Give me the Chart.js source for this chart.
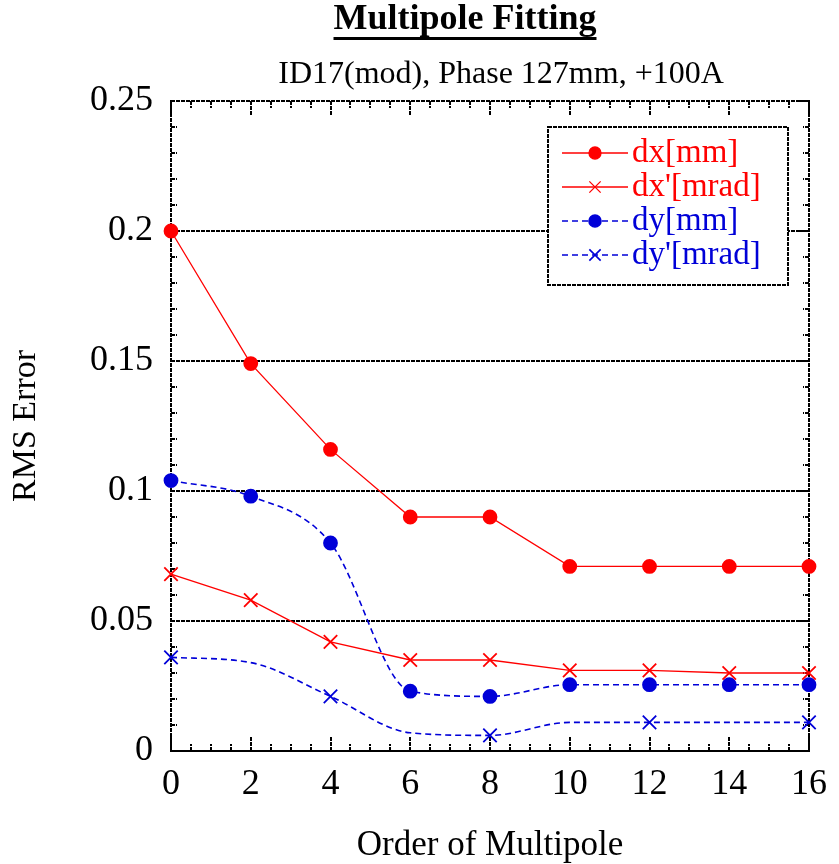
<!DOCTYPE html>
<html>
<head>
<meta charset="utf-8">
<title>Multipole Fitting</title>
<script src="https://cdn.jsdelivr.net/npm/chart.js@4.4.1/dist/chart.umd.min.js"></script>
<style>
    html, body { margin: 0; padding: 0; background: #ffffff; }
    #chart { display: block; }
</style>
</head>
<body>
<canvas id="chart" width="839" height="864"></canvas>
<script>
// Data
const orders = [0, 2, 4, 6, 8, 10, 12, 14, 16];
const dxMm = [0.200, 0.149, 0.116, 0.090, 0.090, 0.071, 0.071, 0.071, 0.071];
const dxMrad = [0.068, 0.058, 0.042, 0.035, 0.035, 0.031, 0.031, 0.030, 0.030];
const dyMm = [0.104, 0.098, 0.080, 0.023, 0.021, 0.0255, 0.0255, 0.0255, 0.0255];
const dyMrad = [0.036, 0.034, 0.021, 0.007, 0.006, 0.011, 0.011, 0.011, 0.011];
const yTicks = [0, 0.05, 0.1, 0.15, 0.2, 0.25];

const SERIF = '"Liberation Serif", "Times New Roman", serif';
const RED = '#ff0000';
const BLUE = '#0000d8';

function toPoints(values) {
    return orders.map((x, i) => ({ x, y: values[i] }));
}

// dy' only gets a marker on every other point
const dyMradRadius = orders.map((_, i) => (i % 2 === 0 ? 9.5 : 0));

// Frame, ticks and dotted grid lines
const framePlugin = {
    id: 'frame',
    beforeDatasetsDraw(chart) {
        const { ctx, chartArea: a, scales: { x, y } } = chart;
        ctx.save();
        ctx.strokeStyle = '#000';
        ctx.lineWidth = 2;
        ctx.setLineDash([4, 1]);

        // horizontal grid lines
        yTicks.forEach(v => {
            const py = Math.round(y.getPixelForValue(v));
            ctx.beginPath();
            ctx.moveTo(a.left, py);
            ctx.lineTo(a.right, py);
            ctx.stroke();
        });
        ctx.strokeRect(a.left, a.top, a.right - a.left, a.bottom - a.top);

        // x ticks, bottom and top
        for (let v = 0; v <= 16; v += 0.5) {
            const px = Math.round(x.getPixelForValue(v));
            const len = v % 2 === 0 ? 14 : 7;
            ctx.beginPath();
            ctx.moveTo(px, a.bottom);
            ctx.lineTo(px, a.bottom - len);
            ctx.moveTo(px, a.top);
            ctx.lineTo(px, a.top + len);
            ctx.stroke();
        }
        // y ticks, left and right
        for (let i = 0; i <= 25; i++) {
            const py = Math.round(y.getPixelForValue(i / 100));
            const len = i % 5 === 0 ? 12 : 6;
            ctx.beginPath();
            ctx.moveTo(a.left, py);
            ctx.lineTo(a.left + len, py);
            ctx.moveTo(a.right, py);
            ctx.lineTo(a.right - len, py);
            ctx.stroke();
        }
        ctx.restore();
    }
};

// Legend box in the upper right of the plot
const legendPlugin = {
    id: 'boxLegend',
    afterDatasetsDraw(chart) {
        const { ctx } = chart;
        const box = { x: 548, y: 127, w: 240, h: 158 };
        ctx.save();
        ctx.fillStyle = '#fff';
        ctx.fillRect(box.x, box.y, box.w, box.h);
        ctx.strokeStyle = '#000';
        ctx.lineWidth = 2;
        ctx.setLineDash([4, 1]);
        ctx.strokeRect(box.x, box.y, box.w, box.h);

        const rows = [153, 187, 221, 255];
        chart.data.datasets.forEach((ds, i) => {
            const ry = rows[i];
            ctx.strokeStyle = ds.borderColor;
            ctx.fillStyle = ds.borderColor;
            ctx.lineWidth = ds.borderWidth;
            ctx.setLineDash(ds.borderDash || []);
            ctx.beginPath();
            ctx.moveTo(562, ry);
            ctx.lineTo(628, ry);
            ctx.stroke();
            ctx.setLineDash([]);
            Chart.helpers.drawPoint(ctx, {
                pointStyle: ds.pointStyle,
                radius: ds.pointStyle === 'circle' ? 6 : 8,
                borderWidth: 1.5
            }, 595, ry);
            ctx.font = '33px ' + SERIF;
            ctx.textAlign = 'left';
            ctx.textBaseline = 'middle';
            ctx.fillText(ds.label, 632, ry);
        });
        ctx.restore();
    }
};

// Heading and subheading
const headingPlugin = {
    id: 'heading',
    afterDraw(chart) {
        const { ctx } = chart;
        ctx.save();
        ctx.fillStyle = '#000';
        ctx.textAlign = 'center';
        ctx.textBaseline = 'alphabetic';
        ctx.font = 'bold 36px ' + SERIF;
        const title = 'Multipole Fitting';
        ctx.fillText(title, 465, 29);
        const w = ctx.measureText(title).width;
        ctx.fillRect(465 - w / 2, 37, w, 3);
        ctx.font = '32px ' + SERIF;
        ctx.fillText('ID17(mod), Phase 127mm, +100A', 501, 83);
        ctx.restore();
    }
};

function pointOpts(color, style) {
    return {
        pointStyle: style,
        pointBackgroundColor: color,
        pointBorderColor: color,
        pointBorderWidth: 1.8
    };
}

new Chart(document.getElementById('chart'), {
    type: 'line',
    data: {
        datasets: [
            {
                label: 'dx[mm]',
                data: toPoints(dxMm),
                borderColor: RED,
                borderWidth: 1.3,
                pointRadius: 6.5,
                ...pointOpts(RED, 'circle')
            },
            {
                label: "dx'[mrad]",
                data: toPoints(dxMrad),
                borderColor: RED,
                borderWidth: 1.3,
                pointRadius: 9.5,
                ...pointOpts(RED, 'crossRot')
            },
            {
                label: 'dy[mm]',
                data: toPoints(dyMm),
                borderColor: BLUE,
                borderWidth: 1.6,
                borderDash: [6, 4],
                cubicInterpolationMode: 'monotone',
                pointRadius: 6.5,
                ...pointOpts(BLUE, 'circle')
            },
            {
                label: "dy'[mrad]",
                data: toPoints(dyMrad),
                borderColor: BLUE,
                borderWidth: 1.6,
                borderDash: [6, 4],
                cubicInterpolationMode: 'monotone',
                pointRadius: dyMradRadius,
                ...pointOpts(BLUE, 'crossRot')
            }
        ]
    },
    options: {
        responsive: false,
        animation: false,
        clip: false,
        layout: { padding: { top: 101, right: 20, left: 0, bottom: 0 } },
        plugins: {
            legend: { display: false },
            tooltip: { enabled: false }
        },
        scales: {
            x: {
                type: 'linear',
                min: 0,
                max: 16,
                afterFit: s => { s.height = 113; },
                grid: { display: false, drawTicks: false },
                border: { display: false },
                ticks: {
                    stepSize: 2,
                    padding: 12,
                    color: '#000',
                    font: { family: SERIF, size: 36 }
                },
                title: {
                    display: true,
                    text: 'Order of Multipole',
                    color: '#000',
                    font: { family: SERIF, size: 35 },
                    padding: { top: 0, bottom: -3 }
                }
            },
            y: {
                min: 0,
                max: 0.25,
                afterFit: s => { s.width = 171; },
                afterBuildTicks: s => { s.ticks = yTicks.map(v => ({ value: v })); },
                grid: { display: false, drawTicks: false },
                border: { display: false },
                ticks: {
                    padding: 18,
                    color: '#000',
                    font: { family: SERIF, size: 36 },
                    callback: v => String(Math.round(v * 100) / 100)
                },
                title: {
                    display: true,
                    text: 'RMS Error',
                    color: '#000',
                    font: { family: SERIF, size: 34 },
                    padding: { top: 6, bottom: 0 }
                }
            }
        }
    },
    plugins: [framePlugin, legendPlugin, headingPlugin]
});
</script>
</body>
</html>
